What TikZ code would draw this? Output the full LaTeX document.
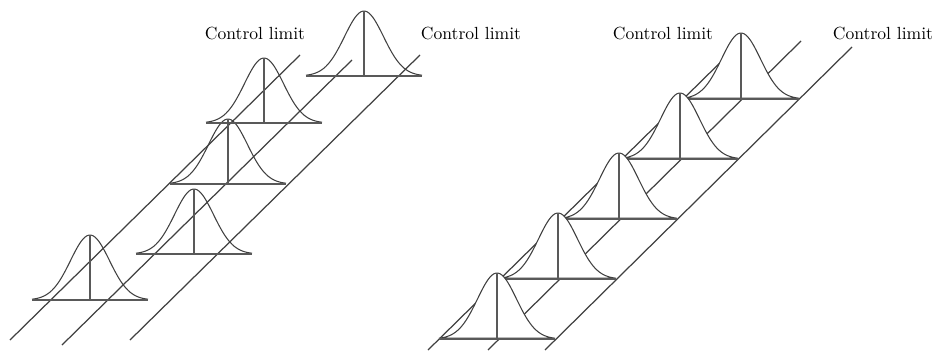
\documentclass[tikz,border=0pt]{standalone}
\usetikzlibrary{positioning}

\begin{document}
\begin{tikzpicture}[
    x=0.02cm, y=-0.02cm,
    rail/.style={draw=black!75, line width=0.7pt},
    bell/.style={draw=black!75, line width=0.6pt},
    base/.style={draw=black!65, line width=0.9pt},
    limit/.style={anchor=base, inner sep=0pt}
]
\useasboundingbox (0,0) rectangle (936,352);

% Left chart: means drift between the limits
\draw[rail] (10,340) -- (300,55);
\draw[rail] (62,345) -- (352,60);
\draw[rail] (130,340) -- (420,55);

\foreach \cx/\cy in {90/300, 194/254, 228/184, 264/123, 364/76} {
    \draw[bell] plot[domain=-58:58, samples=60] ({\cx+\x}, {\cy-65*exp(-0.5*(\x/19.5)^2)});
    \draw[base] (\cx-58,\cy) -- (\cx+58,\cy);
    \draw[base] (\cx,\cy) -- (\cx,\cy-65);
}

% Right chart: stable process, back to front
\draw[rail] (428,350) -- (733,50);
\draw[rail] (488,350) -- (801,41);
\draw[rail] (545,350) -- (852,47);

\foreach \cx/\cy in {741/99, 680/159, 619/219, 558/279, 497/339} {
    \draw[bell, fill=white] plot[domain=-58:58, samples=60] ({\cx+\x}, {\cy-66*exp(-0.5*(\x/19.5)^2)}) -- cycle;
    \draw[base] (\cx-58,\cy) -- (\cx+58,\cy);
    \draw[base] (\cx,\cy) -- (\cx,\cy-66);
}

% Limit labels
\node[limit] (leftlcl) at (255,39) {Control limit};
\node[limit] (leftucl) at (471,39) {Control limit};
\node[limit] (rightlcl) at (663,39) {Control limit};
\node[limit] (rightucl) at (883,39) {Control limit};

\end{tikzpicture}
\end{document}
